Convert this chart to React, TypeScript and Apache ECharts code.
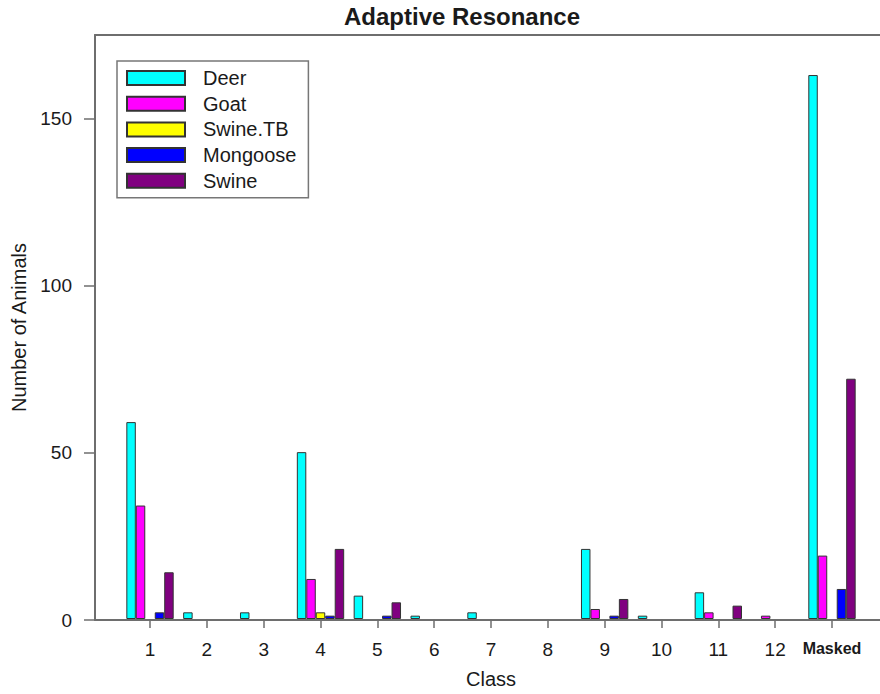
import React, { useEffect, useRef } from 'react';
import * as echarts from 'echarts';

const categories = ['1', '2', '3', '4', '5', '6', '7', '8', '9', '10', '11', '12', 'Masked'];
const deer = [59, 2, 2, 50, 7, 1, 2, 0, 21, 1, 8, 0, 163];
const goat = [34, 0, 0, 12, 0, 0, 0, 0, 3, 0, 2, 1, 19];
const swineTB = [0, 0, 0, 2, 0, 0, 0, 0, 0, 0, 0, 0, 0];
const mongoose = [2, 0, 0, 1, 1, 0, 0, 0, 1, 0, 0, 0, 9];
const swine = [14, 0, 0, 21, 5, 0, 0, 0, 6, 0, 4, 0, 72];
const yTicks = [0, 50, 100, 150];
const seriesNames = ['Deer', 'Goat', 'Swine.TB', 'Mongoose', 'Swine'];
const seriesData = [deer, goat, swineTB, mongoose, swine];
const seriesColors = ['#00FFFF', '#FF00FF', '#FFFF00', '#0000FF', '#800080'];

const FONT = '"Liberation Sans", Arial, Helvetica, sans-serif';
const AXIS_COLOR = '#6e6e6e';
const TEXT_COLOR = '#1a1a1a';

export default function App() {
  const ref = useRef<HTMLDivElement>(null);

  useEffect(() => {
    document.body.style.margin = '0';
    if (!ref.current) return;
    const chart = echarts.init(ref.current, null, { renderer: 'svg' });
    const option: any = {
      animation: false,
      backgroundColor: '#ffffff',
      textStyle: { fontFamily: FONT },
      title: {
        text: 'Adaptive Resonance',
        left: 462,
        textAlign: 'center',
        top: 4,
        padding: 0,
        textStyle: { fontFamily: FONT, fontSize: 24, fontWeight: 'bold', color: TEXT_COLOR },
      },
      legend: {
        orient: 'vertical',
        left: 117,
        top: 61,
        padding: [7, 12, 7, 9],
        itemWidth: 58,
        itemHeight: 14,
        itemGap: 5.7,
        borderColor: '#777777',
        borderWidth: 1.5,
        icon: 'rect',
        data: seriesNames,
        textStyle: { fontFamily: FONT, fontSize: 20, lineHeight: 20, color: TEXT_COLOR, padding: [0, 0, 0, 13] },
      },
      grid: [
        { left: 95, right: 0, top: 35, bottom: 74, containLabel: false },
        { left: 121.6, right: 19.6, top: 35, bottom: 74, containLabel: false },
      ],
      xAxis: [
        {
          type: 'value', gridIndex: 0, min: 0, max: 1, position: 'bottom',
          axisLine: { show: true, lineStyle: { color: AXIS_COLOR, width: 2 } },
          axisTick: { show: false }, axisLabel: { show: false }, splitLine: { show: false },
        },
        {
          type: 'category', gridIndex: 1, data: categories, position: 'bottom',
          name: 'Class', nameLocation: 'middle', nameGap: 50,
          nameTextStyle: { fontFamily: FONT, fontSize: 20, color: TEXT_COLOR },
          axisLine: { show: false },
          axisTick: { show: true, alignWithLabel: true, length: 9, lineStyle: { color: AXIS_COLOR, width: 1.5 } },
          axisLabel: {
            margin: 21, fontFamily: FONT, fontSize: 19, color: TEXT_COLOR, interval: 0,
            formatter: (v: string) => (v === 'Masked' ? '{b|Masked}' : v),
            rich: { b: { fontFamily: FONT, fontSize: 16, fontWeight: 'bold', color: TEXT_COLOR } },
          },
          splitLine: { show: false },
        },
        {
          type: 'value', gridIndex: 0, min: 0, max: 1, position: 'top',
          axisLine: { show: true, lineStyle: { color: AXIS_COLOR, width: 2 } },
          axisTick: { show: false }, axisLabel: { show: false }, splitLine: { show: false },
        },
      ],
      yAxis: [
        {
          type: 'value', gridIndex: 0, min: 0, max: 175, position: 'left',
          name: 'Number of Animals', nameLocation: 'middle', nameGap: 63, nameRotate: 90,
          nameTextStyle: { fontFamily: FONT, fontSize: 20, color: TEXT_COLOR },
          axisLine: { show: true, lineStyle: { color: AXIS_COLOR, width: 2 } },
          axisTick: { show: true, inside: false, length: 11, customValues: yTicks, lineStyle: { color: AXIS_COLOR, width: 1.5 } },
          axisLabel: { margin: 23, fontFamily: FONT, fontSize: 19, color: TEXT_COLOR, customValues: yTicks },
          splitLine: { show: false },
        },
        {
          type: 'value', gridIndex: 1, min: 0, max: 175, show: false,
          splitLine: { show: false },
        },
      ],
      series: seriesNames.map((name, i) => ({
        name,
        type: 'bar',
        xAxisIndex: 1,
        yAxisIndex: 1,
        data: seriesData[i].map((v) => (v === 0 ? { value: v, itemStyle: { borderWidth: 0 } } : v)),
        barGap: '0%',
        barCategoryGap: '16.667%',
        itemStyle: { color: seriesColors[i], borderColor: '#333333', borderWidth: 1 },
      })),
    };
    chart.setOption(option);
    return () => chart.dispose();
  }, []);

  return <div ref={ref} style={{ width: 880, height: 694 }} />;
}
